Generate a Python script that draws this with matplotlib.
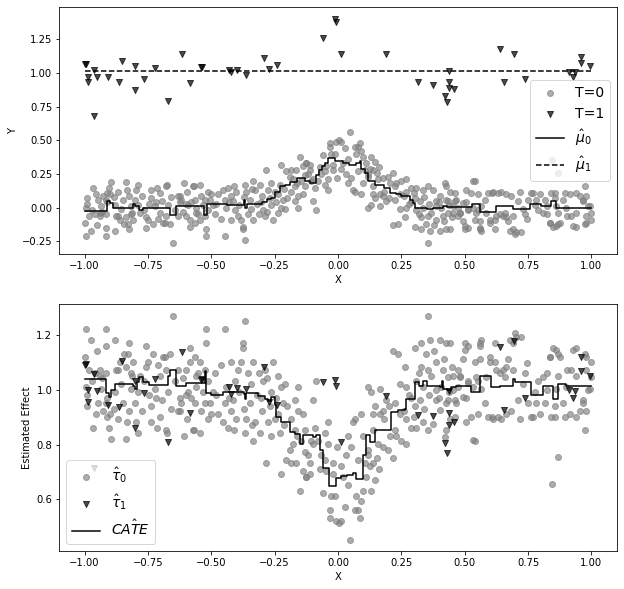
import numpy as np
import matplotlib
matplotlib.use("Agg")
import matplotlib.pyplot as plt

# --- observed outcomes, control group (T=0) ---
x0 = [
    -0.991, -0.994, -0.967, -0.948, -0.928, -0.934, -0.904, -0.895, -0.899, -0.917,
    -0.981, -0.961, -0.941, -0.915, -0.998, -0.974, -0.952, -0.917, -0.996, -0.917,
    -0.882, -0.882, -0.869, -0.862, -0.849, -0.836, -0.832, -0.823, -0.816, -0.836,
    -0.816, -0.809, -0.829, -0.823, -0.790, -0.796, -0.790, -0.783, -0.757, -0.750,
    -0.737, -0.737, -0.724, -0.704, -0.711, -0.691, -0.671, -0.675, -0.665, -0.652,
    -0.632, -0.625, -0.632, -0.619, -0.606, -0.592, -0.599, -0.586, -0.586, -0.573,
    -0.566, -0.560, -0.553, -0.546, -0.546, -0.533, -0.526, -0.520, -0.520, -0.513,
    -0.526, -0.941, -0.875, -0.815, -0.757, -0.718, -0.704, -0.684, -0.678, -0.625,
    -0.599, -0.569, -0.560, -0.910,
    -0.990, -0.970, -0.955, -0.930, -0.910, -0.885, -0.870, -0.855, -0.845, -0.800,
    -0.775, -0.765, -0.745, -0.730, -0.715, -0.695, -0.680, -0.660, -0.645, -0.610,
    -0.595, -0.580, -0.565, -0.540, -0.515,
    -0.507, -0.493, -0.487, -0.474, -0.454, -0.447, -0.441, -0.434, -0.421, -0.414,
    -0.408, -0.401, -0.395, -0.381, -0.375, -0.368, -0.362, -0.349, -0.342, -0.335,
    -0.335, -0.329, -0.309, -0.303, -0.296, -0.289, -0.283, -0.276, -0.270, -0.263,
    -0.257, -0.250, -0.237, -0.230, -0.224, -0.217, -0.210, -0.204, -0.191, -0.184,
    -0.178, -0.171, -0.164, -0.158, -0.158, -0.151, -0.145, -0.138, -0.131, -0.125,
    -0.118, -0.112, -0.099, -0.085, -0.079, -0.066, -0.059, -0.053, -0.039, -0.033,
    -0.026, -0.020, -0.013, -0.007, -0.003, -0.447, -0.368, -0.375, -0.421, -0.224,
    -0.030, -0.112, -0.046, -0.020, -0.098, -0.125,
    -0.500, -0.480, -0.460, -0.430, -0.410, -0.390, -0.370, -0.355, -0.340, -0.320,
    -0.310, -0.300, -0.280, -0.265, -0.245, -0.235, -0.215, -0.200, -0.185, -0.170,
    -0.160, -0.140, -0.130, -0.105, -0.090, -0.070, -0.050, -0.040,
    0.046, 0.013, 0.026, 0.066, 0.086, 0.072, 0.040, 0.013, 0.033, 0.132,
    0.112, 0.125, 0.138, 0.105, 0.040, 0.059, 0.092, 0.138, 0.158, 0.178,
    0.198, 0.217, 0.204, 0.224, 0.250, 0.270, 0.145, 0.138, 0.132, 0.119,
    0.165, 0.178, 0.191, 0.165, 0.224, 0.244, 0.270, 0.290, 0.309, 0.336,
    0.355, 0.244, 0.263, 0.237, 0.217, 0.270, 0.290, 0.303, 0.323, 0.336,
    0.309, 0.329, 0.355, 0.369, 0.388, 0.408, 0.428, 0.441, 0.434, 0.461,
    0.474, 0.454, 0.415, 0.388, 0.349, 0.362, 0.329, 0.303, 0.355, 0.401,
    0.428, 0.448, 0.474, 0.494, 0.507, 0.507, 0.513, 0.500, 0.513,
    0.004, 0.079, 0.092, 0.099, 0.145, 0.119, 0.152, 0.066,
    0.020, 0.050, 0.080, 0.100, 0.120, 0.160, 0.180, 0.200, 0.230, 0.260,
    0.280, 0.300, 0.320, 0.340, 0.360, 0.380, 0.400, 0.420, 0.440, 0.460,
    0.480, 0.375, 0.388, 0.402, 0.421, 0.428, 0.435, 0.441, 0.454, 0.467,
    0.481, 0.494, 0.500,
    0.540, 0.526, 0.553, 0.579, 0.592, 0.612, 0.632, 0.645, 0.665, 0.684,
    0.533, 0.566, 0.540, 0.559, 0.599, 0.619, 0.638, 0.651, 0.671, 0.691,
    0.711, 0.717, 0.730, 0.737, 0.750, 0.770, 0.776, 0.790, 0.796, 0.816,
    0.823, 0.842, 0.855, 0.862, 0.869, 0.875, 0.895, 0.901, 0.915, 0.921,
    0.941, 0.954, 0.967, 0.974, 0.980, 0.994, 0.998, 0.974, 0.941, 0.849,
    0.836, 0.869, 0.691, 0.724, 0.678, 0.619, 0.566, 0.559, 0.553, 0.704,
    0.980, 0.665, 0.845, 0.869,
    0.513, 0.533, 0.546, 0.559, 0.586, 0.599, 0.606, 0.625, 0.658, 0.698,
    0.744, 0.763, 0.783, 0.809, 0.823, 0.836, 0.856, 0.862, 0.889, 0.902,
    0.928, 0.941, 0.967, 0.978, 0.987, 0.999,
]
y0 = [
    0.07, 0.00, 0.15, 0.06, 0.09, 0.01, 0.15, 0.19, 0.10, 0.06,
    -0.06, -0.05, -0.06, -0.05, -0.11, -0.17, -0.13, -0.15, -0.21, -0.21,
    -0.17, 0.02, -0.06, -0.09, 0.06, 0.19, 0.13, 0.09, 0.01, -0.07,
    -0.05, -0.09, -0.12, -0.16, 0.17, 0.13, 0.02, -0.04, -0.15, -0.09,
    0.13, 0.07, 0.01, 0.11, -0.08, -0.11, 0.02, 0.17, -0.12, -0.26,
    0.09, 0.04, -0.06, 0.06, 0.18, 0.02, -0.06, -0.09, -0.14, 0.16,
    0.06, 0.00, -0.05, 0.17, -0.09, 0.02, 0.06, -0.16, -0.21, 0.12,
    -0.06, -0.04, -0.06, -0.04, -0.07, 0.04, -0.04, -0.11, 0.16, 0.09,
    0.03, 0.16, -0.04, 0.11,
    0.03, -0.02, 0.10, -0.03, 0.04, 0.08, 0.12, -0.01, -0.12, 0.06,
    0.09, -0.02, 0.03, -0.12, 0.15, 0.05, -0.06, 0.08, -0.02, -0.03,
    0.12, 0.04, -0.11, 0.09, -0.02,
    0.06, 0.02, -0.05, 0.10, 0.13, 0.06, 0.00, 0.15, 0.09, 0.05,
    -0.02, 0.12, -0.06, -0.09, -0.14, 0.17, 0.12, 0.06, -0.01, 0.20,
    -0.09, 0.13, 0.17, 0.04, -0.02, -0.06, 0.28, 0.13, 0.07, 0.02,
    -0.09, 0.12, 0.10, 0.17, 0.32, 0.06, -0.01, 0.27, 0.23, 0.12,
    0.21, 0.16, 0.28, 0.09, 0.00, 0.38, 0.20, 0.31, 0.16, 0.33,
    0.25, 0.32, 0.05, -0.02, 0.20, 0.25, 0.39, 0.17, 0.21, 0.48,
    0.40, 0.32, 0.40, 0.49, 0.22, -0.21, -0.24, -0.16, -0.09, 0.00,
    0.45, 0.28, 0.31, 0.28, 0.21, 0.33,
    0.10, 0.03, -0.08, 0.04, 0.16, 0.02, 0.08, -0.05, 0.14, 0.03,
    -0.05, 0.09, -0.03, 0.18, 0.04, -0.04, 0.14, 0.07, 0.28, 0.05,
    0.18, 0.10, 0.24, 0.20, 0.15, 0.30, 0.27, 0.13,
    0.56, 0.49, 0.44, 0.45, 0.48, 0.40, 0.36, 0.29, 0.25, 0.38,
    0.33, 0.29, 0.28, 0.28, 0.18, 0.13, 0.10, 0.16, 0.21, 0.22,
    0.23, 0.26, 0.18, 0.16, 0.20, 0.21, 0.07, 0.10, 0.02, 0.00,
    0.10, 0.09, 0.05, 0.01, 0.06, 0.10, 0.12, 0.15, 0.15, 0.13,
    0.16, -0.01, -0.07, -0.12, -0.13, 0.00, 0.04, 0.07, 0.05, 0.00,
    -0.02, -0.07, -0.06, -0.04, 0.05, 0.00, 0.16, 0.12, 0.05, 0.05,
    0.00, -0.04, -0.06, -0.09, -0.12, -0.17, -0.16, -0.14, -0.26, -0.17,
    -0.16, -0.07, -0.06, -0.10, 0.13, 0.04, -0.02, -0.16, -0.15,
    0.50, 0.45, 0.42, 0.38, 0.34, 0.23, 0.26, 0.12,
    0.33, 0.22, 0.27, 0.18, 0.25, 0.30, 0.12, 0.07, 0.18, 0.09,
    0.03, 0.11, -0.05, 0.08, 0.03, -0.13, 0.04, -0.10, 0.02, 0.11,
    -0.04, 0.135, 0.012, 0.086, 0.184, 0.061, -0.037, -0.159, 0.012, 0.061,
    -0.037, 0.037, -0.135,
    0.20, 0.11, 0.10, 0.06, 0.11, 0.12, 0.11, 0.12, 0.10, 0.09,
    0.00, 0.01, -0.09, -0.10, -0.09, -0.09, -0.05, -0.06, -0.10, -0.06,
    0.05, 0.12, -0.01, -0.05, 0.06, 0.11, 0.02, -0.02, 0.10, 0.06,
    -0.05, 0.11, 0.07, 0.01, -0.04, -0.11, 0.11, 0.00, 0.10, -0.06,
    -0.04, 0.09, 0.05, 0.16, -0.06, 0.01, -0.09, -0.12, -0.14, -0.14,
    -0.11, -0.12, -0.16, -0.18, -0.17, -0.16, -0.17, -0.15, -0.02, -0.18,
    0.09, -0.07, 0.355, 0.257,
    -0.012, 0.196, -0.037, -0.159, -0.037, -0.110, 0.110, -0.061, -0.037, -0.196,
    -0.086, 0.110, 0.061, -0.037, 0.012, -0.110, 0.110, -0.135, 0.061, -0.061,
    -0.135, 0.110, 0.061, -0.110, 0.012, -0.037,
]

# --- observed outcomes, treated group (T=1) and their imputed effects ---
x1 = [
    -0.997, -0.995, -0.963, -0.987, -0.987, -0.951, -0.963, -0.908, -0.853, -0.865,
    -0.801, -0.801, -0.766, -0.724, -0.671, -0.617, -0.585, -0.539, -0.536, -0.430,
    -0.421, -0.397, -0.364, -0.292, -0.272, -0.241,
    -0.013, -0.009, -0.059, 0.012, 0.190, 0.316, 0.375, 0.438, 0.438, 0.437,
    0.457, 0.422, 0.429, 0.638, 0.695, 0.655, 0.738, 0.912, 0.928, 0.936,
    0.958, 0.958, 0.994,
]
y1 = [
    1.066, 1.070, 1.024, 0.973, 0.931, 0.968, 0.679, 0.973, 1.090, 0.931,
    1.049, 0.870, 0.956, 1.034, 0.791, 1.144, 0.924, 1.044, 1.046, 1.024,
    1.004, 1.024, 0.987, 1.110, 1.029, 1.059,
    1.404, 1.379, 1.262, 1.144, 1.144, 0.931, 0.907, 1.012, 0.931, 0.887,
    0.882, 0.826, 0.784, 1.176, 1.144, 0.931, 0.953, 1.010, 0.973, 1.004,
    1.115, 1.071, 1.049,
]
tau1 = [
    1.092, 1.095, 1.058, 1.000, 0.955, 0.997, 0.713, 0.943, 1.104, 0.937,
    1.034, 0.862, 0.989, 1.039, 0.810, 1.139, 0.915, 1.037, 1.040, 1.012,
    0.985, 1.007, 1.003, 1.085, 0.955, 0.943,
    1.036, 1.016, 1.028, 0.810, 0.979, 0.910, 0.904, 0.997, 0.915, 0.870,
    0.882, 0.806, 0.770, 1.157, 1.179, 0.928, 0.970, 1.000, 0.970, 0.995,
    1.119, 1.070, 1.052,
]

# --- fitted step functions ---
mu0_x = [-1.00, -0.91, -0.90, -0.89, -0.81, -0.80, -0.785, -0.77, -0.665, -0.638,
         -0.53, -0.517, -0.44, -0.372, -0.366, -0.36, -0.30, -0.28, -0.265, -0.25,
         -0.23, -0.21, -0.19, -0.16, -0.13, -0.11, -0.085, -0.075, -0.065, -0.05,
         -0.038, -0.012, 0.02, 0.045, 0.072, 0.086, 0.092, 0.105, 0.118, 0.145,
         0.18, 0.205, 0.23, 0.25, 0.283, 0.296, 0.303, 0.35, 0.375, 0.415,
         0.43, 0.49, 0.527, 0.56, 0.625, 0.69, 0.757, 0.80, 0.842, 0.86, 1.00]
mu0_y = [-0.025, 0.05, 0.035, 0.0, 0.025, 0.015, -0.015, -0.005, -0.055, 0.01,
         -0.055, 0.03, 0.02, 0.06, 0.0, 0.025, 0.045, 0.065, 0.07, 0.12,
         0.16, 0.17, 0.19, 0.22, 0.20, 0.185, 0.24, 0.28, 0.31, 0.33,
         0.37, 0.345, 0.33, 0.32, 0.33, 0.345, 0.29, 0.255, 0.195, 0.17,
         0.15, 0.11, 0.10, 0.085, 0.06, 0.035, 0.0, -0.01, 0.0, 0.01,
         0.005, 0.005, 0.025, -0.03, 0.01, -0.01, 0.025, 0.01, 0.05, 0.0, 0.0]
mu1_x = [-1.00, 1.00]
mu1_y = [1.012, 1.012]

cate_x = [-1.00, -0.915, -0.905, -0.895, -0.88, -0.81, -0.80, -0.795, -0.785, -0.77,
          -0.745, -0.67, -0.663, -0.657, -0.638, -0.6, -0.54, -0.526, -0.52, -0.50,
          -0.455, -0.37, -0.367, -0.362, -0.315, -0.29, -0.278, -0.265, -0.25, -0.243,
          -0.224, -0.19, -0.17, -0.15, -0.138, -0.10, -0.085, -0.072, -0.059, -0.037,
          -0.007, 0.013, 0.035, 0.059, 0.072, 0.099, 0.112, 0.125, 0.145, 0.21,
          0.237, 0.263, 0.27, 0.303, 0.32, 0.336, 0.35, 0.402, 0.41, 0.415,
          0.43, 0.447, 0.465, 0.526, 0.559, 0.605, 0.638, 0.69, 0.70, 0.763,
          0.809, 0.849, 0.869, 0.90, 1.00]
cate_y = [1.04, 0.99, 0.975, 1.0, 1.022, 1.016, 1.003, 1.028, 1.046, 1.03,
          1.018, 1.052, 1.074, 1.074, 1.016, 1.025, 1.025, 1.07, 0.99, 0.982,
          0.992, 0.985, 0.965, 0.99, 0.979, 0.967, 0.958, 0.975, 0.943, 0.90,
          0.882, 0.846, 0.84, 0.804, 0.834, 0.828, 0.834, 0.779, 0.713, 0.648,
          0.679, 0.684, 0.688, 0.695, 0.676, 0.761, 0.834, 0.81, 0.852, 0.919,
          0.925, 0.931, 0.967, 1.028, 1.016, 1.034, 1.016, 1.01, 1.034, 1.004,
          0.998, 1.01, 1.016, 0.992, 1.052, 1.01, 1.016, 1.04, 1.03, 0.98,
          1.016, 0.967, 1.022, 1.016, 1.016]

# imputed effect for controls: mu1(x) - y0
tau0 = mu1_y[0] - np.array(y0)

W, H = 624, 589
fig = plt.figure(figsize=(W / 72, H / 72), dpi=72)
ax1 = fig.add_axes([59.3 / W, 1 - 254 / H, 557.4 / W, 246.7 / H])
ax2 = fig.add_axes([59.3 / W, 1 - 551 / H, 557.4 / W, 246.7 / H])

# top: outcomes and the two outcome models
ax1.scatter(x0, y0, c="grey", alpha=0.65, label="T=0")
ax1.scatter(x1, y1, c="k", marker="v", alpha=0.7, label="T=1")
ax1.step(mu0_x, mu0_y, where="post", color="k", label=r"$\hat{\mu}_0$")
ax1.step(mu1_x, mu1_y, where="post", color="k", linestyle="--", label=r"$\hat{\mu}_1$")
ax1.set_xlabel("X")
ax1.set_ylabel("Y")
ax1.legend(loc="center right", fontsize=14)

# bottom: imputed effects and the final CATE
ax2.scatter(x0, tau0, c="grey", alpha=0.65, label=r"$\hat{\tau}_0$")
ax2.scatter(x1, tau1, c="k", marker="v", alpha=0.7, label=r"$\hat{\tau}_1$")
ax2.step(cate_x, cate_y, where="post", color="k", label=r"$\hat{CATE}$")
ax2.set_xlabel("X")
ax2.set_ylabel("Estimated Effect")
ax2.legend(loc="lower left", fontsize=14)

fig.savefig("out.png", dpi=72)
